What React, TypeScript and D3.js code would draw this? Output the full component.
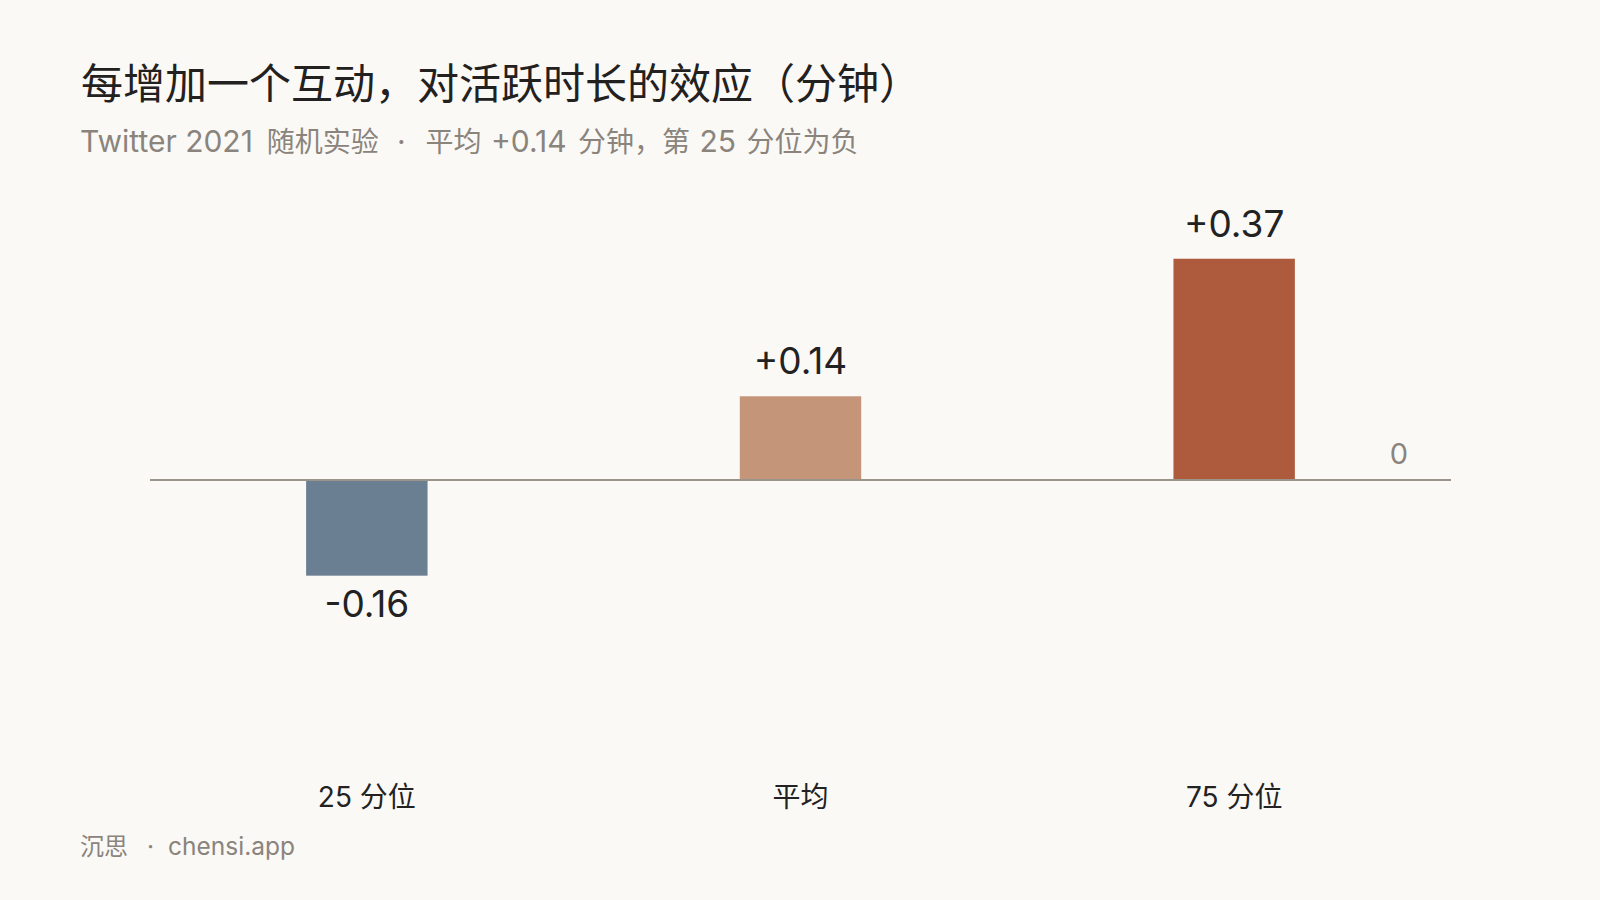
import { useEffect, useRef } from 'react';
import * as d3 from 'd3';

const categories = ['25 分位', '平均', '75 分位'];
const effects = [-0.16, 0.14, 0.37];
const valueLabels = ['-0.16', '+0.14', '+0.37'];
const barColors = ['#6b7f93', '#c5957a', '#ae5b3d'];

const title = '每增加一个互动，对活跃时长的效应（分钟）';
// subtitle runs: [text, isCjk, dx]
const subtitleRuns: [string, boolean, number][] = [
  ['Twitter 2021', false, 0],
  ['随机实验', true, 14],
  ['·', false, 18],
  ['平均', true, 20],
  [' +0.14 ', false, 1],
  ['分钟，第', true, 3],
  [' 25 ', false, 1],
  ['分位为负', true, 2],
];
const footerRuns: [string, boolean, number][] = [
  ['沉思', true, 0],
  ['·', false, 19],
  ['chensi.app', false, 14],
];

const LATIN = 'Inter, "Noto Sans CJK SC", sans-serif';
const CJK = '"Noto Sans CJK SC", sans-serif';

export default function App() {
  const svgRef = useRef<SVGSVGElement>(null);

  useEffect(() => {
    document.body.style.margin = '0';
    document.body.style.background = '#faf9f6';
    if (!svgRef.current) return;

    const svg = d3.select(svgRef.current);
    svg.selectAll('*').remove();

    const width = 1600;
    const height = 900;

    svg.append('rect')
      .attr('width', width)
      .attr('height', height)
      .attr('fill', '#faf9f6');

    // scales
    const x = d3.scaleBand<string>()
      .domain(categories)
      .range([150, 1451])
      .paddingInner(0.72)
      .paddingOuter(0.36);

    const y = d3.scaleLinear()
      .domain([-0.3, 0.4])
      .range([659.4, 240.8]);

    // title block
    svg.append('text')
      .attr('x', 81)
      .attr('y', 99)
      .attr('font-family', CJK)
      .attr('font-size', 42)
      .attr('fill', '#232120')
      .text(title);

    const sub = svg.append('text')
      .attr('x', 80)
      .attr('y', 152)
      .attr('fill', '#8a847d')
      .style('white-space', 'pre');
    sub.selectAll('tspan')
      .data(subtitleRuns)
      .join('tspan')
      .attr('dx', d => d[2])
      .attr('font-family', d => (d[1] ? CJK : LATIN))
      .attr('font-size', d => (d[1] ? 28 : 30))
      .text(d => d[0]);

    // bars
    const data = categories.map((c, i) => ({ c, v: effects[i], label: valueLabels[i], color: barColors[i] }));

    svg.append('g')
      .selectAll('rect')
      .data(data)
      .join('rect')
      .attr('x', d => x(d.c)!)
      .attr('width', x.bandwidth())
      .attr('y', d => y(Math.max(0, d.v)))
      .attr('height', d => Math.abs(y(d.v) - y(0)))
      .attr('fill', d => d.color);

    // zero line
    svg.append('line')
      .attr('x1', x.range()[0])
      .attr('x2', x.range()[1])
      .attr('y1', y(0))
      .attr('y2', y(0))
      .attr('stroke', '#9b948b')
      .attr('stroke-width', 2.2);

    svg.append('text')
      .attr('x', x.range()[1] - 52)
      .attr('y', y(0) - 16)
      .attr('text-anchor', 'middle')
      .attr('font-family', LATIN)
      .attr('font-size', 29)
      .attr('fill', '#8a847d')
      .text('0');

    // value labels
    svg.append('g')
      .selectAll('text')
      .data(data)
      .join('text')
      .attr('x', d => x(d.c)! + x.bandwidth() / 2)
      .attr('y', d => (d.v >= 0 ? y(d.v) - 22 : y(d.v) + 41))
      .attr('text-anchor', 'middle')
      .attr('font-family', LATIN)
      .attr('font-size', 37)
      .attr('fill', '#222')
      .text(d => d.label);

    // category labels
    svg.append('g')
      .selectAll('text')
      .data(categories)
      .join('text')
      .attr('x', d => x(d)! + x.bandwidth() / 2)
      .attr('y', 807)
      .attr('text-anchor', 'middle')
      .attr('font-family', LATIN)
      .attr('font-size', 28)
      .attr('fill', '#222')
      .text(d => d);

    // footer
    const foot = svg.append('text')
      .attr('x', 80)
      .attr('y', 855)
      .attr('fill', '#8a847d');
    foot.selectAll('tspan')
      .data(footerRuns)
      .join('tspan')
      .attr('dx', d => d[2])
      .attr('font-family', d => (d[1] ? CJK : LATIN))
      .attr('font-size', d => (d[1] ? 24 : 24.5))
      .text(d => d[0]);
  }, []);

  return (
    <svg
      ref={svgRef}
      width={1600}
      height={900}
      style={{ display: 'block' }}
    />
  );
}
